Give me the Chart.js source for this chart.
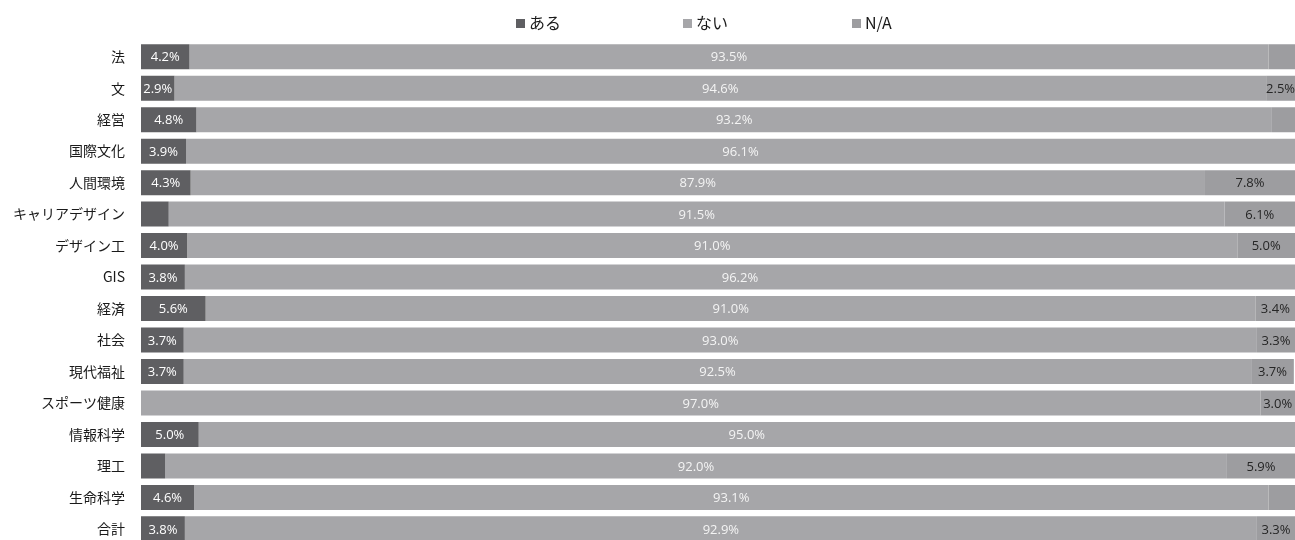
<!DOCTYPE html>
<html>
<head>
<meta charset="utf-8">
<script src="https://cdn.jsdelivr.net/npm/chart.js@4.4.1/dist/chart.umd.min.js"></script>
<style>
  html, body { margin: 0; padding: 0; background: #fff; overflow: hidden; }
  canvas { display: block; }
</style>
</head>
<body>
<canvas id="chart" width="1295" height="569"></canvas>
<script>
const categories = ["法", "文", "経営", "国際文化", "人間環境", "キャリアデザイン", "デザイン工", "GIS",
  "経済", "社会", "現代福祉", "スポーツ健康", "情報科学", "理工", "生命科学", "合計"];
const seriesNames = ["ある", "ない", "N/A"];
const aruValues = [4.2, 2.9, 4.8, 3.9, 4.3, 2.4, 4.0, 3.8, 5.6, 3.7, 3.7, 0, 5.0, 2.1, 4.6, 3.8];
const naiValues = [93.5, 94.6, 93.2, 96.1, 87.9, 91.5, 91.0, 96.2, 91.0, 93.0, 92.5, 97.0, 95.0, 92.0, 93.1, 92.9];
const naValues = [2.3, 2.5, 2.0, 0, 7.8, 6.1, 5.0, 0, 3.4, 3.3, 3.7, 3.0, 0, 5.9, 2.3, 3.3];

const colors = ["#5f5f62", "#a6a6a9", "#9d9da0"];
const labelColors = ["#ffffff", "#f4f4f4", "#262626"];

// labels in the middle of each segment, small ones skipped
const segmentLabels = {
  id: "segmentLabels",
  afterDatasetsDraw(chart) {
    const { ctx } = chart;
    ctx.save();
    ctx.font = "13px 'Open Sans'";
    ctx.textAlign = "center";
    ctx.textBaseline = "middle";
    chart.data.datasets.forEach((ds, di) => {
      chart.getDatasetMeta(di).data.forEach((bar, i) => {
        const v = ds.data[i];
        if (v < 2.5) return;
        ctx.fillStyle = labelColors[di];
        ctx.fillText(v.toFixed(1) + "%", (bar.x + bar.base) / 2, bar.y + 1);
      });
    });
    ctx.restore();
  }
};

// legend spread wide like the original
const wideLegend = {
  id: "wideLegend",
  afterDraw(chart) {
    const { ctx } = chart;
    const startX = [516, 683, 852];
    ctx.save();
    ctx.font = "16px 'Noto Sans CJK JP'";
    ctx.textBaseline = "middle";
    ctx.textAlign = "left";
    seriesNames.forEach((name, i) => {
      ctx.fillStyle = colors[i];
      ctx.fillRect(startX[i], 19, 9, 9);
      ctx.fillStyle = "#1a1a1a";
      ctx.fillText(name, startX[i] + 13, 23);
    });
    ctx.restore();
  }
};

const ctx = document.getElementById("chart").getContext("2d");
new Chart(ctx, {
  type: "bar",
  data: {
    labels: categories,
    datasets: [
      { label: seriesNames[0], data: aruValues, backgroundColor: colors[0] },
      { label: seriesNames[1], data: naiValues, backgroundColor: colors[1] },
      { label: seriesNames[2], data: naValues, backgroundColor: colors[2] }
    ]
  },
  options: {
    indexAxis: "y",
    responsive: false,
    animation: false,
    datasets: { bar: { barPercentage: 0.794, categoryPercentage: 1.0 } },
    layout: { padding: { top: 41, right: 0, bottom: 0, left: 0 } },
    scales: {
      x: { stacked: true, min: 0, max: 100, display: false },
      y: {
        stacked: true,
        grid: { display: false, drawTicks: false },
        border: { display: false },
        ticks: {
          padding: 16,
          color: "#1a1a1a",
          font: { family: "'Noto Sans CJK JP'", size: 14 }
        },
        afterFit(scale) { scale.width = 141; }
      }
    },
    plugins: {
      legend: { display: false },
      tooltip: { enabled: false }
    }
  },
  plugins: [segmentLabels, wideLegend]
});
</script>
</body>
</html>
